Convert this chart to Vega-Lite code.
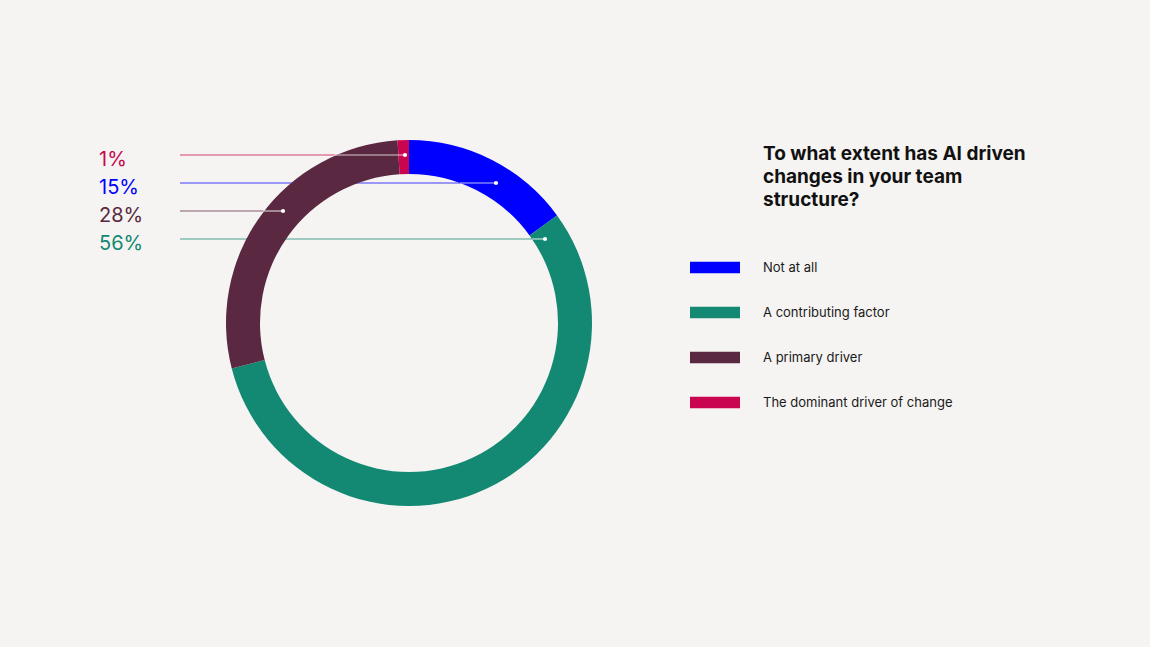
{
  "$schema": "https://vega.github.io/schema/vega-lite/v6.json",
  "width": 1150,
  "height": 647,
  "autosize": {"type": "none"},
  "padding": 0,
  "background": "#f5f4f2",
  "config": {
    "view": {"stroke": null},
    "font": "Inter",
    "legend": {
      "orient": "none",
      "legendX": 690,
      "legendY": 242.5,
      "padding": 0,
      "symbolType": "M-1,-0.23H1V0.23H-1Z",
      "symbolSize": 2500,
      "symbolStrokeWidth": 0,
      "symbolOpacity": 1,
      "symbolFillOpacity": 1,
      "rowPadding": 13,
      "labelOffset": 23,
      "labelFont": "Inter",
      "labelFontSize": 13,
      "labelColor": "#1a1a1a",
      "labelLimit": 400
    }
  },
  "resolve": {"scale": {"color": "independent"}, "legend": {"color": "independent"}},
  "data": {
    "values": [
      {"category": "Not at all", "pct": 15, "rank": 1, "label": "15%", "ly": 183, "dotx": 496, "wx": 460},
      {"category": "A contributing factor", "pct": 56, "rank": 2, "label": "56%", "ly": 239, "dotx": 545, "wx": 532},
      {"category": "A primary driver", "pct": 28, "rank": 3, "label": "28%", "ly": 211, "dotx": 283, "wx": 263},
      {"category": "The dominant driver of change", "pct": 1, "rank": 4, "label": "1%", "ly": 155, "dotx": 405, "wx": 334}
    ]
  },
  "layer": [
    {
      "mark": {"type": "rule", "strokeWidth": 1.2, "opacity": 0.75},
      "encoding": {
        "x": {"field": "dotx", "type": "quantitative", "scale": {"domain": [0, 1150], "nice": false, "zero": false}, "axis": null},
        "x2": {"datum": 180},
        "y": {"field": "ly", "type": "quantitative", "scale": {"domain": [0, 647], "nice": false, "zero": false, "reverse": true}, "axis": null},
        "color": {
          "field": "category",
          "type": "nominal",
          "legend": null,
          "scale": {
            "domain": ["Not at all", "A contributing factor", "A primary driver", "The dominant driver of change"],
            "range": ["#0000ff", "#138872", "#5a2841", "#c9054f"]
          }
        }
      }
    },
    {
      "transform": [
        {"stack": "pct", "groupby": [], "sort": [{"field": "rank", "order": "ascending"}], "as": ["t0", "t1"]}
      ],
      "mark": {"type": "arc", "outerRadius": 183, "innerRadius": 149},
      "encoding": {
        "x": {"datum": 409, "type": "quantitative"},
        "y": {"datum": 323, "type": "quantitative"},
        "theta": {"field": "t0", "type": "quantitative", "scale": {"domain": [0, 100]}},
        "theta2": {"field": "t1"},
        "color": {
          "field": "category",
          "type": "nominal",
          "title": null,
          "scale": {
            "domain": ["Not at all", "A contributing factor", "A primary driver", "The dominant driver of change"],
            "range": ["#0000ff", "#138872", "#5a2841", "#c9054f"]
          }
        }
      }
    },
    {
      "mark": {"type": "rule", "strokeWidth": 1.2, "color": "#ffffff", "opacity": 0.75},
      "encoding": {
        "x": {"field": "wx", "type": "quantitative"},
        "x2": {"field": "dotx"},
        "y": {"field": "ly", "type": "quantitative"}
      }
    },
    {
      "mark": {"type": "point", "filled": true, "color": "#ffffff", "opacity": 1, "size": 18},
      "encoding": {
        "x": {"field": "dotx", "type": "quantitative"},
        "y": {"field": "ly", "type": "quantitative"}
      }
    },
    {
      "mark": {"type": "text", "align": "left", "baseline": "alphabetic", "dy": 11, "fontSize": 20, "font": "Inter"},
      "encoding": {
        "x": {"datum": 99, "type": "quantitative"},
        "y": {"field": "ly", "type": "quantitative"},
        "text": {"field": "label"},
        "color": {
          "field": "category",
          "type": "nominal",
          "legend": null,
          "scale": {
            "domain": ["Not at all", "A contributing factor", "A primary driver", "The dominant driver of change"],
            "range": ["#0000ff", "#138872", "#5a2841", "#c9054f"]
          }
        }
      }
    },
    {
      "data": {"values": [{"question": "To what extent has AI driven changes in your team structure?"}]},
      "mark": {
        "type": "text",
        "align": "left",
        "baseline": "alphabetic",
        "fontSize": 19,
        "fontWeight": 700,
        "font": "Inter",
        "color": "#111111",
        "lineHeight": 23,
        "letterSpacing": -0.6,
        "text": ["To what extent has AI driven", "changes in your team", "structure?"]
      },
      "encoding": {
        "x": {"datum": 763, "type": "quantitative"},
        "y": {"datum": 160, "type": "quantitative"}
      }
    }
  ]
}
